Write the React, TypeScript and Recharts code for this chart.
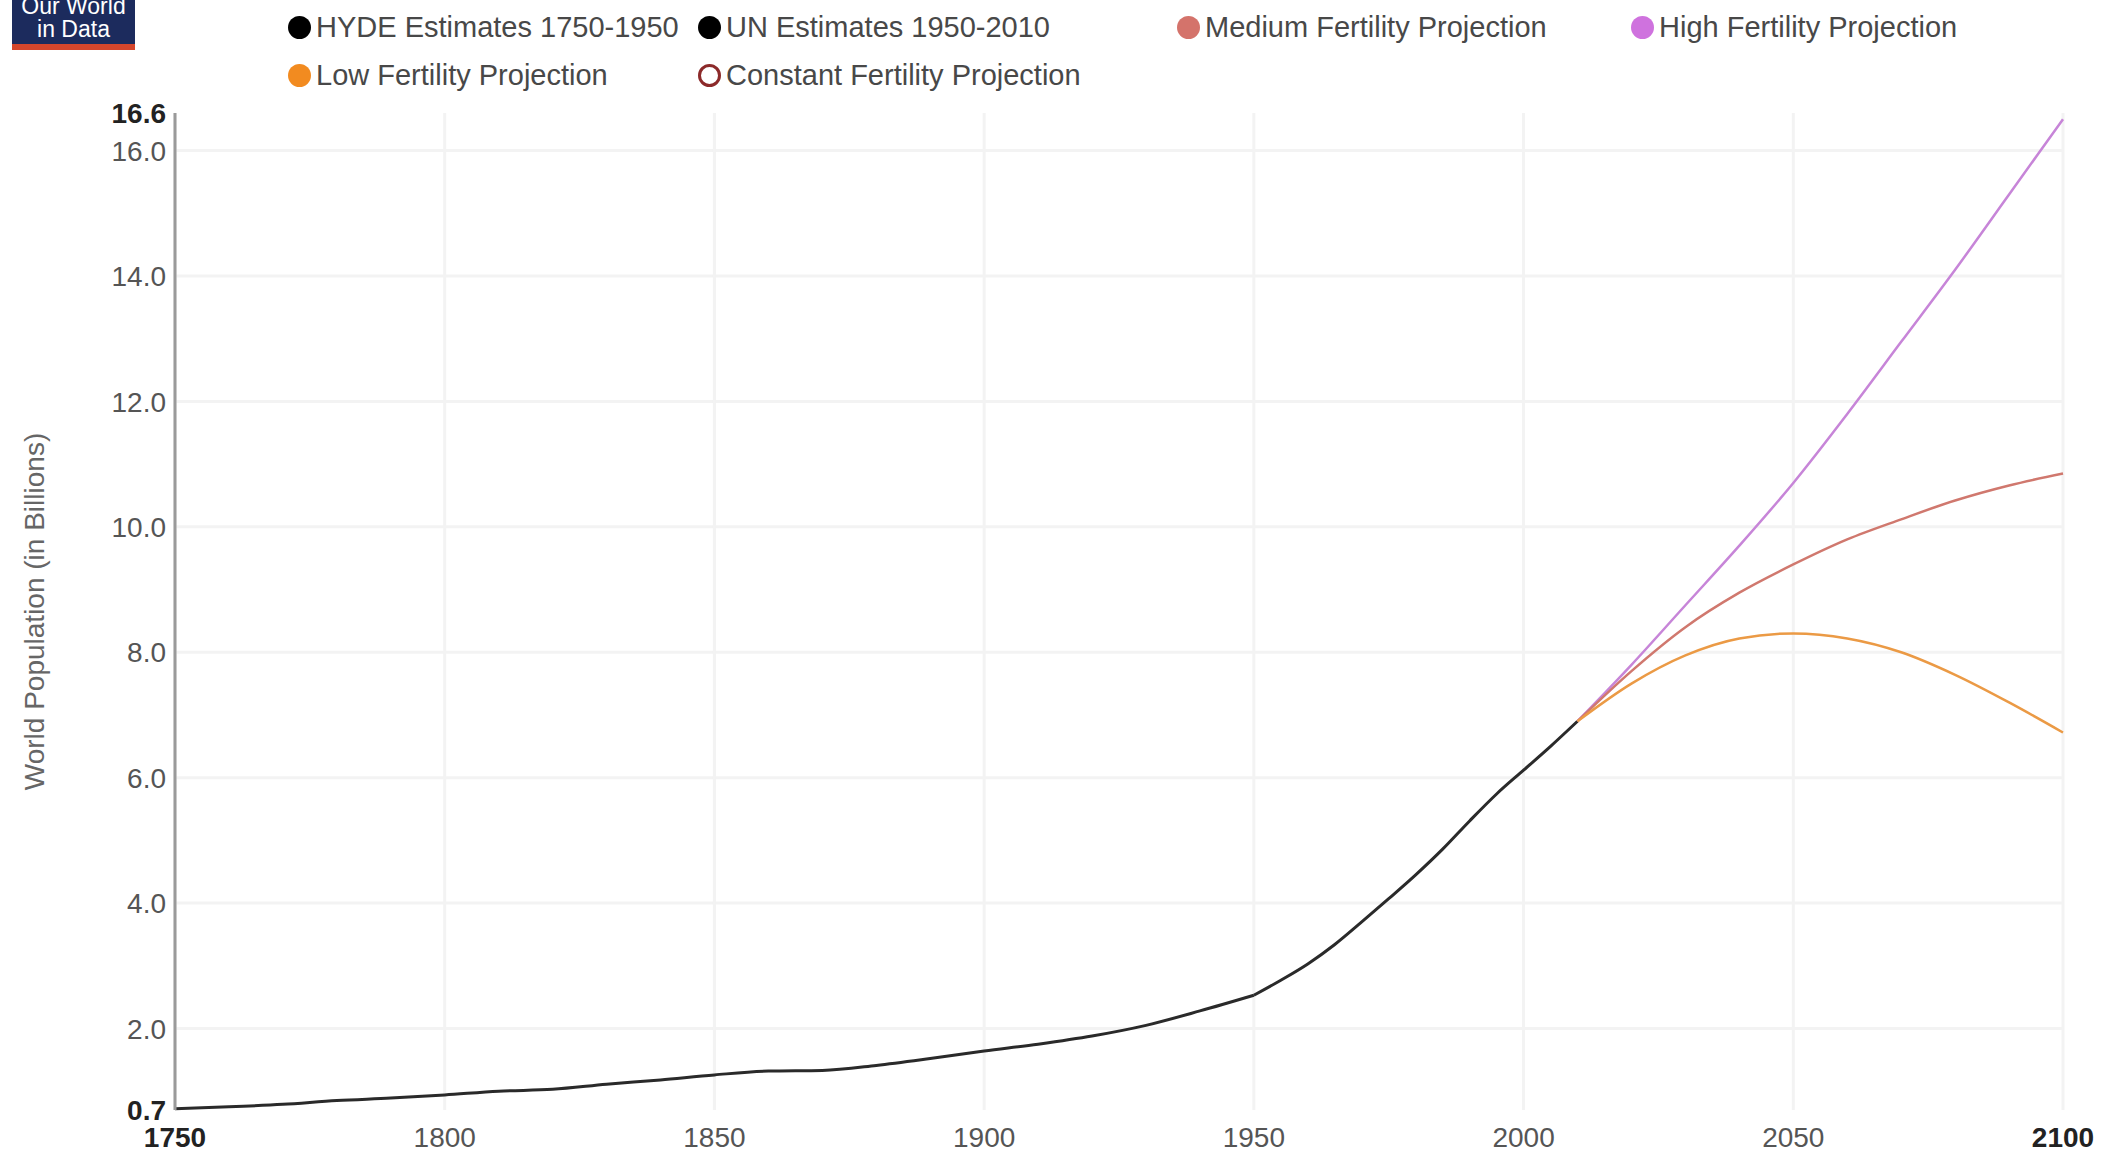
import { LineChart, Line, XAxis, YAxis, CartesianGrid, Label } from "recharts";

const hydeYears = [1750, 1760, 1770, 1780, 1790, 1800, 1810, 1820, 1830, 1840, 1850, 1860, 1870, 1880, 1890, 1900, 1910, 1920, 1930, 1940, 1950];
const hydeValues = [0.72, 0.75, 0.79, 0.85, 0.89, 0.94, 1.0, 1.03, 1.11, 1.18, 1.26, 1.32, 1.33, 1.41, 1.52, 1.64, 1.75, 1.88, 2.05, 2.28, 2.53];

const unYears = [1950, 1955, 1960, 1965, 1970, 1975, 1980, 1985, 1990, 1995, 2000, 2005, 2010];
const unValues = [2.53, 2.77, 3.03, 3.34, 3.7, 4.07, 4.45, 4.86, 5.31, 5.74, 6.12, 6.5, 6.9];

const projYears = [2010, 2020, 2030, 2040, 2050, 2060, 2070, 2080, 2090, 2100];
const mediumValues = [6.9, 7.7, 8.4, 8.95, 9.4, 9.8, 10.12, 10.42, 10.66, 10.85];
const highValues = [6.9, 7.8, 8.75, 9.7, 10.7, 11.8, 12.95, 14.1, 15.3, 16.5];
const lowValues = [6.9, 7.5, 7.95, 8.22, 8.3, 8.22, 8.0, 7.64, 7.2, 6.72];

const xTicks = [1750, 1800, 1850, 1900, 1950, 2000, 2050, 2100];
const yTicks = [0.7, 2, 4, 6, 8, 10, 12, 14, 16, 16.6];
const yGrid = [2, 4, 6, 8, 10, 12, 14, 16];

const legendItems = [
  { name: "HYDE Estimates 1750-1950", color: "#000000", hollow: false },
  { name: "UN Estimates 1950-2010", color: "#000000", hollow: false },
  { name: "Medium Fertility Projection", color: "#d4736b", hollow: false },
  { name: "High Fertility Projection", color: "#cf72de", hollow: false },
  { name: "Low Fertility Projection", color: "#f28b20", hollow: false },
  { name: "Constant Fertility Projection", color: "#8c2a2a", hollow: true },
];

// merge every series into one table keyed by year
const allYears = Array.from(new Set([...hydeYears, ...unYears, ...projYears])).sort((a, b) => a - b);
const data = allYears.map((year) => {
  const row: Record<string, number | undefined> = { year };
  const h = hydeYears.indexOf(year);
  const u = unYears.indexOf(year);
  const p = projYears.indexOf(year);
  row.hyde = h >= 0 ? hydeValues[h] : undefined;
  row.un = u >= 0 ? unValues[u] : undefined;
  row.medium = p >= 0 ? mediumValues[p] : undefined;
  row.high = p >= 0 ? highValues[p] : undefined;
  row.low = p >= 0 ? lowValues[p] : undefined;
  return row;
});

const font = "'Liberation Sans', Arial, Helvetica, sans-serif";
const yMin = yTicks[0];
const yMax = yTicks[yTicks.length - 1];

const YTick = ({ x, y, payload }: any) => {
  const edge = payload.value === yMin || payload.value === yMax;
  return (
    <text x={x} y={y} dy="0.36em" textAnchor="end" fontFamily={font} fontSize={28}
      fill={edge ? "#222" : "#555"} fontWeight={edge ? 700 : 400}>
      {Number(payload.value).toFixed(1)}
    </text>
  );
};

const XTick = ({ x, y, payload }: any) => {
  const edge = payload.value === xTicks[0] || payload.value === xTicks[xTicks.length - 1];
  return (
    <text x={x} y={y} dy="0.71em" textAnchor="middle" fontFamily={font} fontSize={28}
      fill={edge ? "#222" : "#555"} fontWeight={edge ? 700 : 400}>
      {payload.value}
    </text>
  );
};

const YLabel = ({ viewBox }: any) => {
  const cy = viewBox.y + viewBox.height / 2;
  return (
    <text x={34} y={cy} transform={`rotate(-90, 34, ${cy})`} textAnchor="middle" dominantBaseline="central"
      fontFamily={font} fontSize={28} fill="#666">
      World Population (in Billions)
    </text>
  );
};

export default function App() {
  return (
    <div style={{ position: "absolute", left: 0, top: 0, width: 2110, height: 1159, background: "#fff", overflow: "hidden" }}>
      <div style={{ position: "absolute", left: 12, top: 0, width: 123, height: 44, background: "#1c2b5d", borderBottom: "6px solid #d5462c", overflow: "hidden", color: "#fff", fontFamily: font, fontSize: 23, lineHeight: "23px", textAlign: "center" }}>
        <div style={{ marginTop: -5 }}>Our World</div>
        <div>in Data</div>
      </div>

      <div style={{ position: "absolute", left: 288, top: 3, display: "grid", gridTemplateColumns: "410px 479px 454px 420px", gridAutoRows: "48px", fontFamily: font, fontSize: 29, color: "#484848" }}>
        {legendItems.map((item) => (
          <div key={item.name} style={{ display: "flex", alignItems: "center", whiteSpace: "nowrap" }}>
            <span style={{
              display: "inline-block", width: 23, height: 23, borderRadius: "50%", marginRight: 5, boxSizing: "border-box",
              background: item.hollow ? "transparent" : item.color,
              border: item.hollow ? `3px solid ${item.color}` : "none",
            }} />
            {item.name}
          </div>
        ))}
      </div>

      <LineChart width={2110} height={1159} data={data} margin={{ top: 113, right: 47, bottom: 0, left: 0 }}>
        <CartesianGrid stroke="#f3f3f3" strokeWidth={3} horizontalValues={yGrid} verticalValues={xTicks} />
        <XAxis dataKey="year" type="number" domain={[1750, 2100]} ticks={xTicks} height={49}
          axisLine={false} tickLine={false} tickSize={0} tickMargin={17} tick={<XTick />} interval={0} />
        <YAxis type="number" domain={[yMin, yMax]} ticks={yTicks} width={175} interval={0}
          axisLine={{ stroke: "#9a9a9a", strokeWidth: 3 }} tickLine={false} tickSize={0} tickMargin={9} tick={<YTick />}>
          <Label content={<YLabel />} />
        </YAxis>
        <Line type="monotone" dataKey="hyde" stroke="#2a2a2a" strokeWidth={3} dot={false} isAnimationActive={false} />
        <Line type="monotone" dataKey="un" stroke="#2a2a2a" strokeWidth={3} dot={false} isAnimationActive={false} />
        <Line type="monotone" dataKey="high" stroke="#c785d8" strokeWidth={2.5} dot={false} isAnimationActive={false} />
        <Line type="monotone" dataKey="medium" stroke="#d0786e" strokeWidth={2.5} dot={false} isAnimationActive={false} />
        <Line type="monotone" dataKey="low" stroke="#eb9a45" strokeWidth={2.5} dot={false} isAnimationActive={false} />
      </LineChart>
    </div>
  );
}
